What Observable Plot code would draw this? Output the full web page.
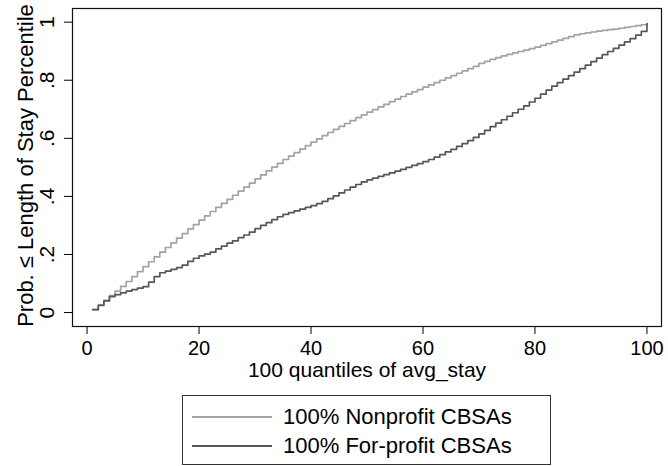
<!DOCTYPE html>
<html>
<head>
<meta charset="utf-8">
<script src="https://cdn.jsdelivr.net/npm/d3@7"></script>
<script src="https://cdn.jsdelivr.net/npm/@observablehq/plot@0.6"></script>
<style>
  body { margin: 0; background: #fff; font-family: "Liberation Sans", Arial, sans-serif; }
  #chart { position: relative; width: 668px; height: 466px; }
  #legend { position: absolute; left: 182px; top: 395px; width: 369px; height: 70px;
            box-sizing: border-box; border: 1px solid #333; background: #fff; padding-top: 6px; }
  .row { display: flex; align-items: center; height: 29px; font-size: 22px; color: #000; }
  .sw { margin-left: 9px; width: 80px; height: 0; border-top-style: solid; margin-right: 11px; }
</style>
</head>
<body>
<div id="chart"></div>
<script>
// ---- data ----
const quantiles = d3.range(1, 101);
const seriesNames = ["100% Nonprofit CBSAs", "100% For-profit CBSAs"];
const seriesColors = ["#a3a3a3", "#575757"];
const nonprofit = [
  .010,.026,.042,.058,.074,.090,.107,.124,.141,.158,
  .175,.192,.208,.224,.240,.256,.272,.288,.303,.318,
  .333,.348,.362,.376,.390,.404,.418,.432,.446,.460,
  .474,.488,.501,.514,.527,.539,.551,.563,.575,.587,
  .598,.609,.620,.631,.641,.651,.661,.671,.681,.690,
  .699,.708,.717,.726,.735,.744,.752,.760,.768,.776,
  .784,.792,.800,.808,.816,.824,.832,.840,.848,.858,
  .865,.872,.878,.884,.889,.894,.899,.904,.909,.914,
  .920,.926,.932,.938,.944,.950,.956,.960,.963,.966,
  .969,.972,.974,.976,.979,.982,.985,.988,.991,.995
];
const forprofit = [
  .010,.025,.040,.055,.062,.068,.074,.079,.084,.089,
  .105,.124,.137,.143,.149,.155,.163,.176,.187,.195,
  .201,.208,.219,.229,.239,.247,.258,.267,.277,.289,
  .300,.310,.320,.330,.338,.344,.350,.356,.362,.368,
  .375,.383,.392,.402,.412,.422,.432,.441,.450,.457,
  .463,.469,.475,.481,.487,.493,.500,.507,.513,.520,
  .527,.535,.544,.553,.562,.572,.582,.592,.603,.615,
  .627,.640,.652,.664,.676,.688,.700,.712,.725,.738,
  .752,.766,.780,.792,.804,.816,.828,.840,.852,.864,
  .876,.888,.899,.910,.921,.932,.943,.955,.968,.995
];
const xTicks = [0, 20, 40, 60, 80, 100];
const yTicks = [0, 0.2, 0.4, 0.6, 0.8, 1];
const yTickLabels = ["0", ".2", ".4", ".6", ".8", "1"];
const xLabel = "100 quantiles of avg_stay";
const yLabel = "Prob. ≤ Length of Stay Percentile";

// ---- table ----
const seriesValues = [nonprofit, forprofit];
const rows = [];
seriesNames.forEach((name, i) => {
  seriesValues[i].forEach((v, j) => rows.push({q: quantiles[j], p: v, series: name}));
});
const yTickRows = yTicks.map((v, i) => ({v, label: yTickLabels[i]}));

const FONT = "Liberation Sans, Arial, sans-serif";
const plot = Plot.plot({
  width: 668,
  height: 390,
  marginLeft: 72,
  marginRight: 7,
  marginTop: 8,
  marginBottom: 64,
  style: {fontFamily: FONT, background: "white", color: "black", overflow: "visible"},
  x: {domain: [-2.6, 102.6]},
  y: {domain: [-0.048, 1.047]},
  color: {domain: seriesNames, range: seriesColors},
  marks: [
    Plot.lineY(rows, {x: "q", y: "p", z: "series", stroke: "series", curve: "step-after", strokeWidth: 1.7}),
    Plot.frame({stroke: "#111", strokeWidth: 1.2}),
    Plot.axisX({ticks: xTicks, tickSize: 8, tickPadding: 6, fontSize: 20, label: null, tickFormat: d => String(d)}),
    Plot.axisY({ticks: yTicks, tickSize: 8, label: null, tickFormat: () => ""}),
    Plot.text(yTickRows, {y: "v", text: "label", frameAnchor: "left", rotate: -90, dx: -25,
                          textAnchor: "middle", lineAnchor: "middle", fontSize: 21, fill: "black"}),
    Plot.text([xLabel], {frameAnchor: "bottom", dy: 44, textAnchor: "middle", lineAnchor: "middle", fontSize: 21, fill: "black"}),
    Plot.text([yLabel], {frameAnchor: "left", rotate: -90, dx: -47, dy: -2, textAnchor: "middle", lineAnchor: "middle", fontSize: 22, fill: "black"})
  ]
});

const chart = document.getElementById("chart");
chart.appendChild(plot);

const legend = document.createElement("div");
legend.id = "legend";
seriesNames.forEach((name, i) => {
  const row = document.createElement("div");
  row.className = "row";
  const sw = document.createElement("span");
  sw.className = "sw";
  sw.style.borderTopColor = seriesColors[i];
  sw.style.borderTopWidth = "2px";
  const t = document.createElement("span");
  t.textContent = name;
  row.appendChild(sw);
  row.appendChild(t);
  legend.appendChild(row);
});
chart.appendChild(legend);
</script>
</body>
</html>
